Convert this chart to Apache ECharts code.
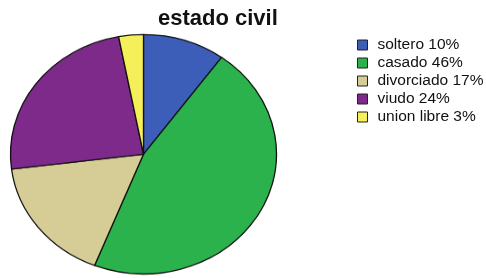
<!DOCTYPE html>
<html>
<head>
<meta charset="utf-8">
<script src="https://cdn.jsdelivr.net/npm/echarts@6/dist/echarts.min.js"></script>
<style>
html,body{margin:0;padding:0;background:#fff;overflow:hidden;}
#wrap{position:relative;width:486px;height:278px;overflow:hidden;}
#pie{position:absolute;left:0;top:0;width:486px;height:309px;transform:scaleY(0.9);transform-origin:0 0;}
#txt{position:absolute;left:0;top:0;width:486px;height:278px;}
</style>
</head>
<body>
<div id="wrap"><div id="pie"></div><div id="txt"></div></div>
<script>
const titleText = 'estado civil';
const categories = ['soltero', 'casado', 'divorciado', 'viudo', 'union libre'];
const percents = [10, 46, 17, 24, 3];
const colors = ['#3c5db8', '#2bb24c', '#d6cd96', '#7d2a8a', '#f5ef5a'];

const data = categories.map((c, i) => ({
  name: c + ' ' + percents[i] + '%',
  value: percents[i],
  itemStyle: { color: colors[i] }
}));

const pieChart = echarts.init(document.getElementById('pie'), null, { renderer: 'canvas' });
pieChart.setOption({
  animation: false,
  series: [{
    type: 'pie',
    center: [143.5, 171.3],
    radius: 133,
    startAngle: 90,
    clockwise: true,
    label: { show: false },
    labelLine: { show: false },
    emphasis: { disabled: true },
    itemStyle: { borderColor: '#111', borderWidth: 1.3 },
    data: data
  }]
});

const txtChart = echarts.init(document.getElementById('txt'), null, { renderer: 'canvas' });
txtChart.setOption({
  animation: false,
  title: {
    text: titleText,
    left: 158,
    top: 8,
    padding: 0,
    textStyle: { fontFamily: 'Liberation Sans, Arial, sans-serif', fontWeight: 'bold', fontSize: 22, color: '#111' }
  },
  legend: {
    orient: 'vertical',
    left: 357,
    top: 37,
    padding: 0,
    itemWidth: 10,
    itemHeight: 10,
    itemGap: 2,
    icon: 'rect',
    selectedMode: false,
    itemStyle: { borderColor: '#222', borderWidth: 1, opacity: 1 },
    textStyle: { fontFamily: 'Liberation Sans, Arial, sans-serif', fontSize: 15.5, color: '#111', lineHeight: 15, padding: [0, 0, 0, 5] },
    data: data.map(d => d.name)
  },
  series: [{
    type: 'pie',
    center: [143.5, 154],
    radius: [0, 0],
    silent: true,
    label: { show: false },
    labelLine: { show: false },
    itemStyle: { borderWidth: 0 },
    data: data.map(d => ({ name: d.name, value: d.value, itemStyle: { color: d.itemStyle.color } }))
  }]
});
</script>
</body>
</html>
